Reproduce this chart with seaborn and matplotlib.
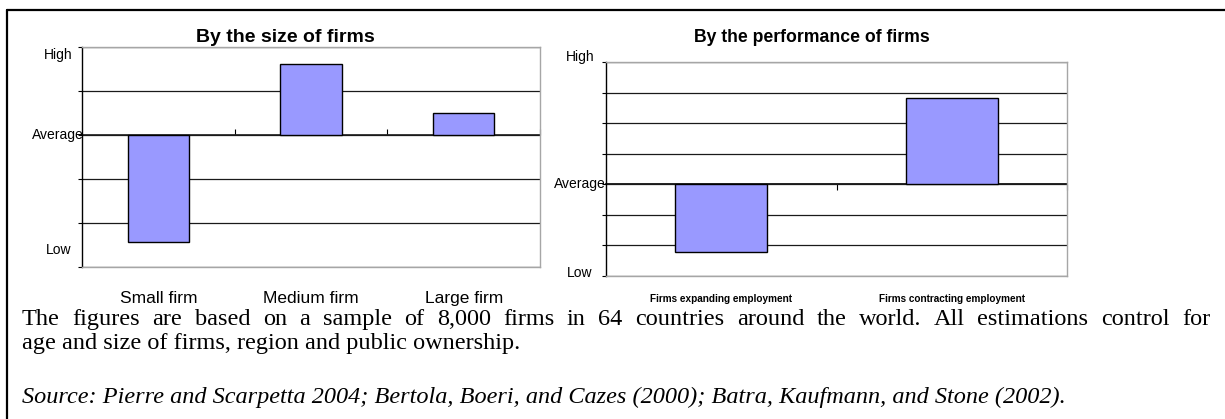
import numpy as np
import pandas as pd
import seaborn as sns
import matplotlib.pyplot as plt
from matplotlib.lines import Line2D

# Relative position vs. average (units of gridline steps)
size_cats = ['Small firm', 'Medium firm', 'Large firm']
size_vals = [-2.43, 1.61, 0.51]

perf_cats = ['Firms expanding employment', 'Firms contracting employment']
perf_vals = [-2.22, 2.81]

level_labels = ['High', 'Average', 'Low']

note_line1 = ('The figures are based on a sample of 8,000 firms in 64 countries around the world. '
              'All estimations control for')
note_line2 = 'age and size of firms, region and public ownership.'
source_line = ('Source: Pierre and Scarpetta 2004; Bertola, Boeri, and Cazes (2000); '
               'Batra, Kaufmann, and Stone (2002).')

bar_color = '#9999FF'
frame_gray = '#a6a6a6'

sns.set_theme(style='white')
plt.rcParams['font.family'] = ['Liberation Sans', 'DejaVu Sans']
plt.rcParams['text.color'] = 'black'

fig = plt.figure(figsize=(12.25, 4.19), dpi=100)
W, H = 1225, 419


def px_axes(x0, y0, x1, y1):
    return fig.add_axes([x0 / W, 1 - y1 / H, (x1 - x0) / W, (y1 - y0) / H])


def style_panel(ax, ylo, yhi, label_pos, label_x, tick_fs, tick_bold, pad):
    ax.set_ylim(ylo, yhi)
    ax.set_yticks(np.arange(ylo, yhi + 1))
    ax.set_yticklabels([])
    ax.yaxis.grid(True, color='#1a1a1a', lw=0.9)
    ax.set_axisbelow(True)
    ax.tick_params(axis='y', left=True, length=3, width=0.8, color='black', direction='out')
    ax.tick_params(axis='x', bottom=False, length=0, pad=pad, labelsize=tick_fs)
    for lab in ax.get_xticklabels():
        lab.set_fontweight('bold' if tick_bold else 'normal')
        lab.set_color('black')
    ax.set_xlabel('')
    ax.set_ylabel('')
    for s in ['top', 'right', 'bottom']:
        ax.spines[s].set_color(frame_gray)
        ax.spines[s].set_linewidth(1.0)
    ax.spines['left'].set_color('black')
    ax.spines['left'].set_linewidth(1.0)
    # category axis line drawn at the "Average" level
    n = len(ax.get_xticks())
    sec = ax.secondary_xaxis((0 - ylo) / (yhi - ylo))
    sec.set_xticks(np.arange(n) + 0.5)
    sec.set_xticklabels([])
    sec.tick_params(length=4, width=0.8, color='black', direction='out')
    sec.spines['bottom'].set_color('black')
    sec.spines['bottom'].set_linewidth(1.2)
    tr = ax.get_yaxis_transform()
    for txt, yv in zip(level_labels, label_pos):
        ax.text(label_x, yv, txt, transform=tr, ha='center', va='center',
                fontsize=10, color='black')


# Left panel: by size
ax1 = px_axes(82, 47, 540, 267)
df1 = pd.DataFrame({'cat': size_cats, 'val': size_vals})
sns.barplot(data=df1, x='cat', y='val', color=bar_color, edgecolor='black',
            linewidth=1.0, width=0.4, saturation=1, ax=ax1)
ax1.set_xlim(-0.5, len(size_cats) - 0.5)
style_panel(ax1, -3, 2, [1.82, 0, -2.62], -0.052, 12.5, False, 17)

# Right panel: by performance
ax2 = px_axes(606, 62, 1067, 276)
df2 = pd.DataFrame({'cat': perf_cats, 'val': perf_vals})
sns.barplot(data=df2, x='cat', y='val', color=bar_color, edgecolor='black',
            linewidth=1.0, width=0.4, saturation=1, ax=ax2)
ax2.set_xlim(-0.5, len(perf_cats) - 0.5)
style_panel(ax2, -3, 4, [4.15, 0, -2.9], -0.057, 7.2, True, 13)

# Titles
fig.text(285.5 / W, 1 - 38 / H, 'By the size of firms', ha='center', va='center',
         fontsize=14, fontweight='bold', color='black')
fig.text(812 / W, 1 - 37 / H, 'By the performance of firms', ha='center', va='center',
         fontsize=12.7, fontweight='bold', color='black')

# Notes below the charts
serif = ['Liberation Serif', 'DejaVu Serif']
note_fs = 17.5

# first line is justified to the right edge, so place word by word
renderer = fig.canvas.get_renderer()
words = note_line1.split(' ')
word_txts = [fig.text(0, 1 - 319 / H, w, ha='left', va='center', fontsize=note_fs,
                      family=serif, color='black')
             for w in words]
widths = [t.get_window_extent(renderer).width for t in word_txts]
gap = (1210 - 22 - sum(widths)) / (len(words) - 1)
xpos = 22
for t, wd in zip(word_txts, widths):
    t.set_x(xpos / W)
    xpos += wd + gap

fig.text(22 / W, 1 - 344 / H, note_line2, ha='left', va='center', fontsize=note_fs,
         family=serif, color='black')
fig.text(22 / W, 1 - 397 / H, source_line, ha='left', va='center', fontsize=note_fs,
         family=serif, style='italic', color='black')

# Outer frame (left and top edges)
fig.add_artist(Line2D([7 / W, 7 / W], [0, 1 - 10 / H], color='black', lw=1.6))
fig.add_artist(Line2D([7 / W, 1], [1 - 10 / H, 1 - 10 / H], color='black', lw=1.6))

fig.savefig('out.png', dpi=100)
